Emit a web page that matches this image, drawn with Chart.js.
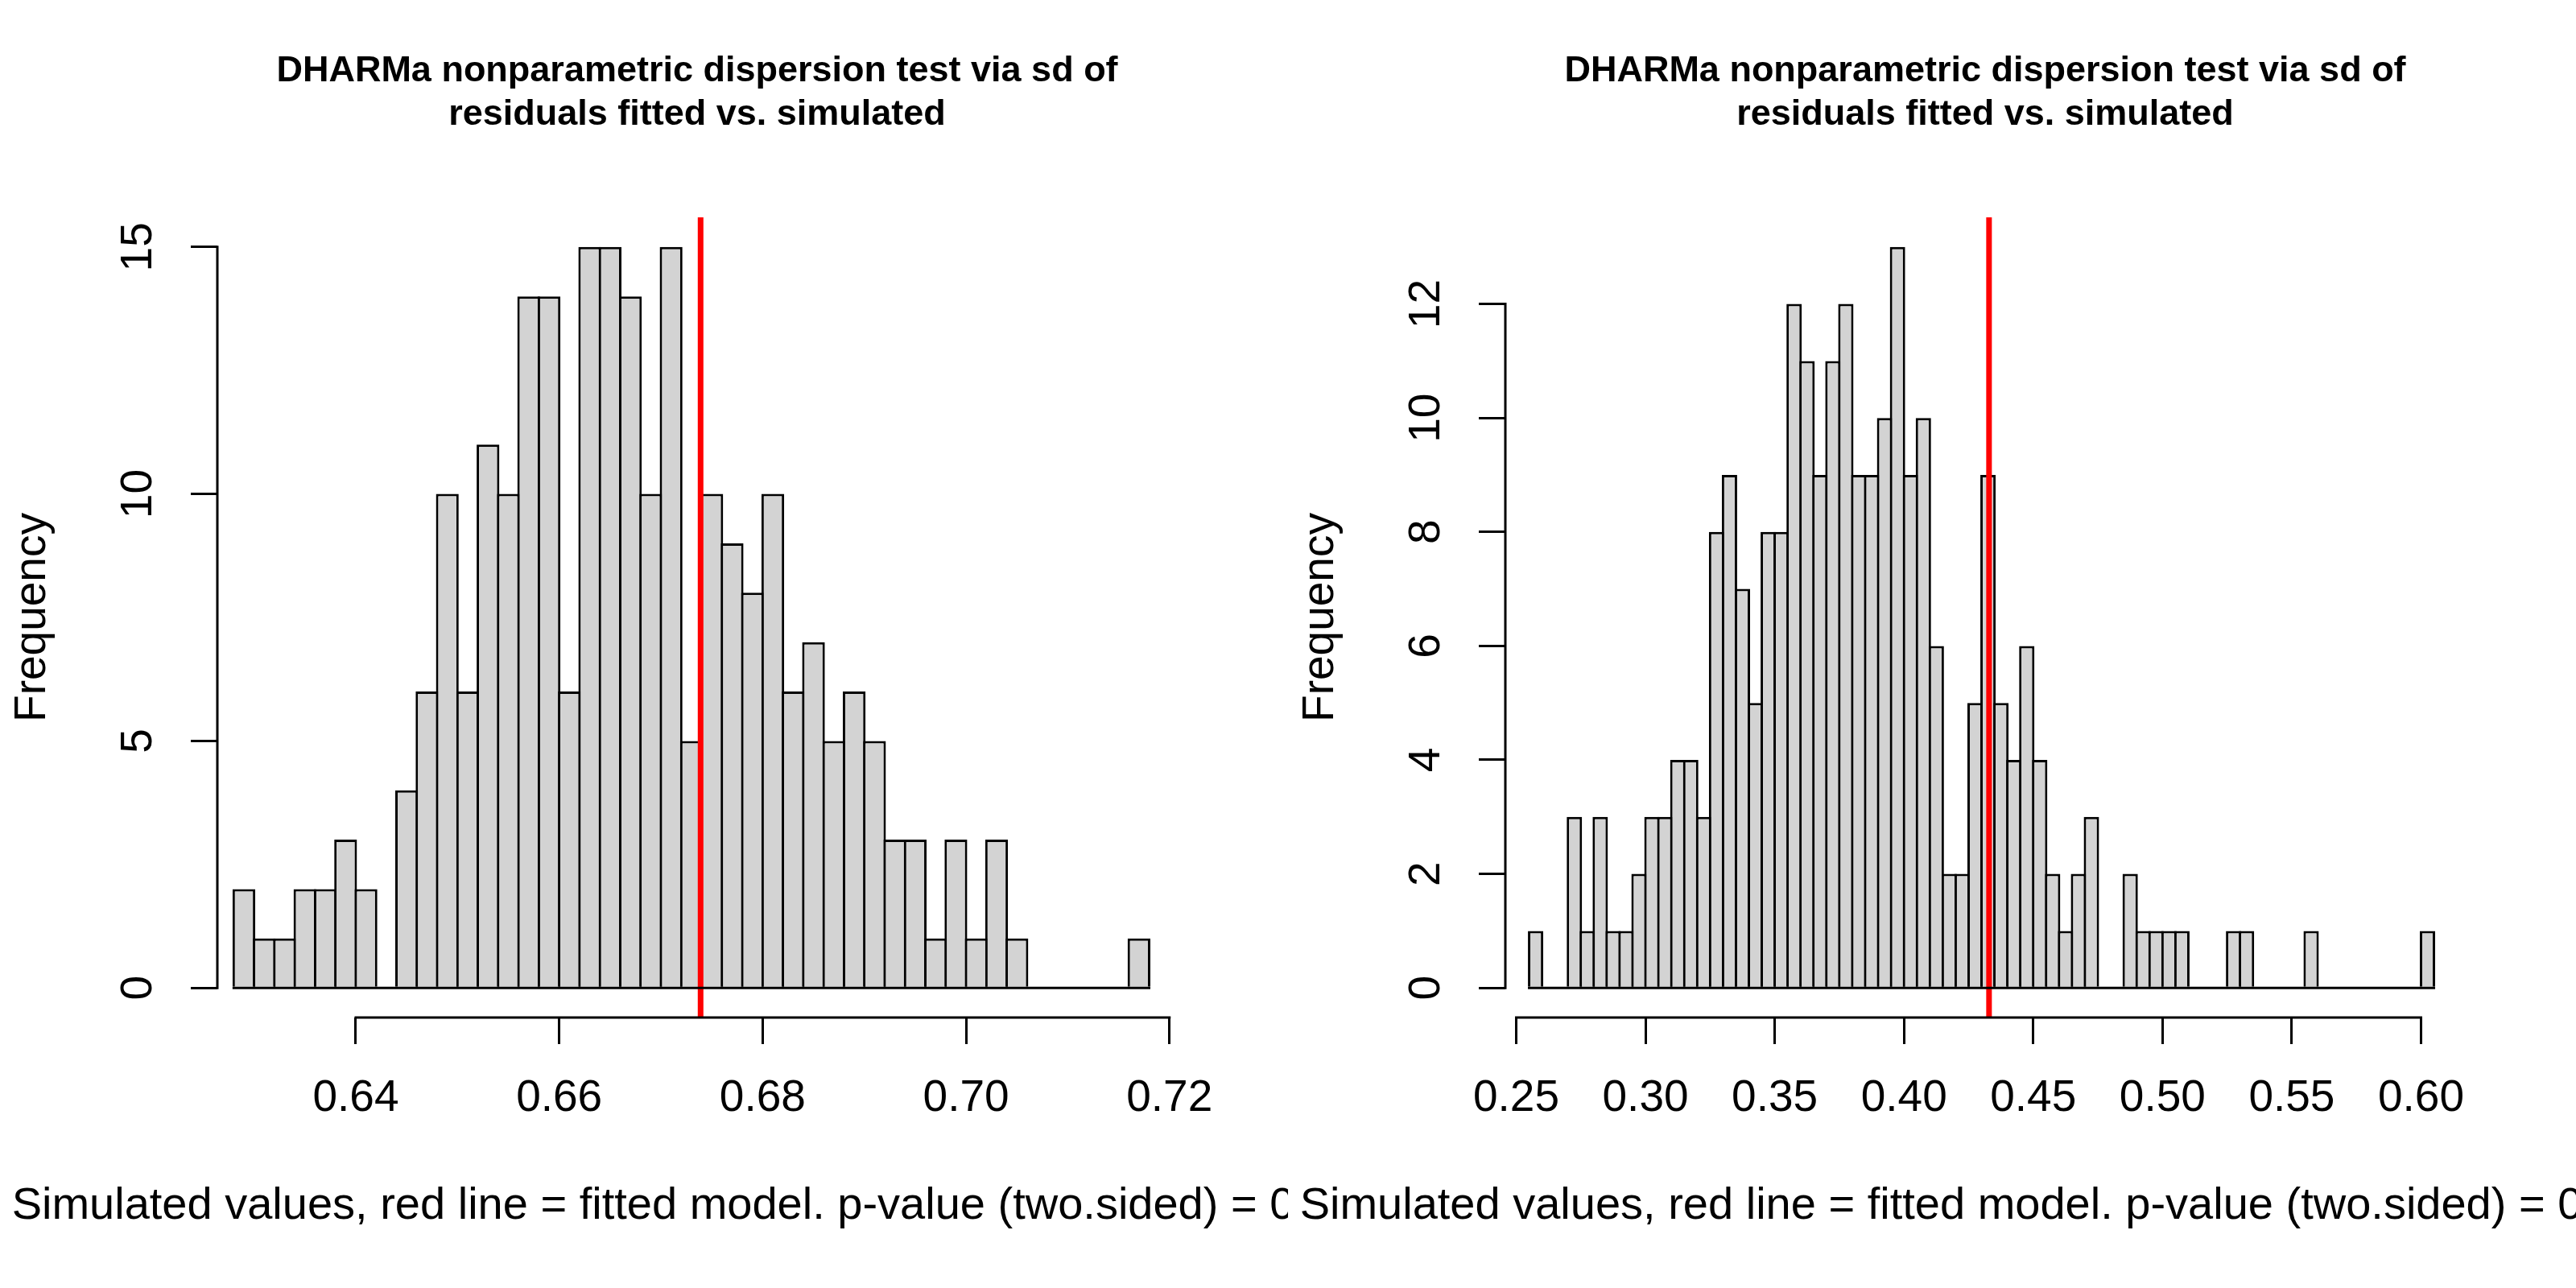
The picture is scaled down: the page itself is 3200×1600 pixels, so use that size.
<!DOCTYPE html>
<html>
<head>
<meta charset="utf-8">
<script src="https://cdn.jsdelivr.net/npm/chart.js@4.4.0/dist/chart.umd.min.js"></script>
<style>
  html, body { margin: 0; padding: 0; background: #ffffff; }
  #wrap { display: flex; width: 3200px; height: 1600px; }
  canvas { display: block; }
</style>
</head>
<body>
<div id="wrap">
  <canvas id="c1" width="1600" height="1600"></canvas>
  <canvas id="c2" width="1600" height="1600"></canvas>
</div>
<script>
// ---------------- data ----------------
const titleLines = ["DHARMa nonparametric dispersion test via sd of", "residuals fitted vs. simulated"];
const yLabel = "Frequency";
const leftXLabel = "Simulated values, red line = fitted model. p-value (two.sided) = 0.656";
const rightXLabel = "Simulated values, red line = fitted model. p-value (two.sided) = 0.328";

// left panel
const leftBinStart = 0.628;
const leftBinWidth = 0.002;
const leftCounts = [2,1,1,2,2,3,2,0,4,6,10,6,11,10,14,14,6,15,15,14,10,15,5,10,9,8,10,6,7,5,6,5,3,3,1,3,1,3,1,0,0,0,0,0,1];
const leftObserved = 0.6739;
const leftXTicks = [0.64, 0.66, 0.68, 0.70, 0.72];
const leftYTicks = [0, 5, 10, 15];
const leftXRange = [0.62639, 0.72073];
const leftYRange = [-0.6, 15.6];

// right panel
const rightBinStart = 0.255;
const rightBinWidth = 0.005;
const rightCounts = [1,0,0,3,1,3,1,1,2,3,3,4,4,3,8,9,7,5,8,8,12,11,9,11,12,9,9,10,13,9,10,6,2,2,5,9,5,4,6,4,2,1,2,3,0,0,2,1,1,1,1,0,0,0,1,1,0,0,0,0,1,0,0,0,0,0,0,0,0,1];
const rightObserved = 0.4329;
const rightXTicks = [0.25, 0.30, 0.35, 0.40, 0.45, 0.50, 0.55, 0.60];
const rightYTicks = [0, 2, 4, 6, 8, 10, 12];
const rightXRange = [0.2458, 0.61698];
const rightYRange = [-0.52, 13.52];

// ---------------- layout / style ----------------
const FONT = "'Liberation Sans', Arial, Helvetica, sans-serif";
const CW = 1600, CH = 1600;
const Y_AXIS_W = 270, RIGHT_PAD = 138, TOP_H = 270, X_AXIS_H = 336;
const LW = 3;
const TITLE_SIZE = 45, TITLE_PAD_TOP = 62;
Chart.defaults.color = '#000';
Chart.defaults.font.family = FONT;

const rAxisPlugin = {
  id: 'rAxis',
  afterDraw(chart) {
    const o = chart.config.options.plugins.rAxis;
    const { ctx, chartArea: ca } = chart;
    const xs = chart.scales.x, ys = chart.scales.y;
    ctx.save();
    ctx.strokeStyle = '#000';
    ctx.lineWidth = LW;
    ctx.lineCap = 'square';
    // x axis line (first to last tick)
    ctx.beginPath();
    ctx.moveTo(xs.getPixelForValue(o.xTicks[0]), ca.bottom);
    ctx.lineTo(xs.getPixelForValue(o.xTicks[o.xTicks.length - 1]), ca.bottom);
    ctx.stroke();
    // y axis line
    ctx.beginPath();
    ctx.moveTo(ca.left, ys.getPixelForValue(o.yTicks[0]));
    ctx.lineTo(ca.left, ys.getPixelForValue(o.yTicks[o.yTicks.length - 1]));
    ctx.stroke();
    // histogram base line (covers empty bins)
    ctx.lineCap = 'butt';
    const y0 = ys.getPixelForValue(0);
    ctx.beginPath();
    ctx.moveTo(xs.getPixelForValue(o.binStart) - LW / 2, y0);
    ctx.lineTo(xs.getPixelForValue(o.binStart + o.nBins * o.binWidth) + LW / 2, y0);
    ctx.stroke();
    // x label (R style, not width-limited)
    ctx.fillStyle = '#000';
    ctx.font = '56px ' + FONT;
    ctx.textAlign = 'center';
    ctx.textBaseline = 'alphabetic';
    ctx.fillText(o.xLabel, (ca.left + ca.right) / 2, chart.height - 86);
    ctx.restore();
  }
};

function makeChart(canvasId, binStart, binWidth, counts, observed, xTicks, yTicks, xRange, yRange, xLabel) {
  const bars = counts.map((c, i) => ({ x: binStart + (i + 0.5) * binWidth, y: c }));
  const plotW = CW - Y_AXIS_W - RIGHT_PAD;
  const binPx = plotW * binWidth / (xRange[1] - xRange[0]);
  const barPct = (binPx + LW) / binPx;
  return new Chart(document.getElementById(canvasId), {
    type: 'bar',
    data: {
      datasets: [
        {
          type: 'line',
          data: [{ x: observed, y: yRange[0] }, { x: observed, y: yRange[1] }],
          borderColor: '#FF0000',
          borderWidth: 7,
          pointRadius: 0,
          fill: false,
          order: 0
        },
        {
          type: 'bar',
          data: bars,
          backgroundColor: '#D3D3D3',
          borderColor: '#000000',
          borderWidth: LW,
          borderSkipped: 'start',
          barPercentage: barPct,
          categoryPercentage: 1.0,
          inflateAmount: 0,
          order: 1
        }
      ]
    },
    options: {
      responsive: false,
      animation: false,
      devicePixelRatio: 1,
      layout: { padding: { left: 0, right: RIGHT_PAD, top: 0, bottom: 0 } },
      plugins: {
        legend: { display: false },
        tooltip: { enabled: false },
        title: {
          display: true,
          text: titleLines,
          fullSize: false,
          color: '#000',
          font: { family: FONT, size: TITLE_SIZE, weight: 'bold', lineHeight: 1.2 },
          padding: { top: TITLE_PAD_TOP, bottom: TOP_H - TITLE_PAD_TOP - 2 * TITLE_SIZE * 1.2 }
        },
        rAxis: { xTicks, yTicks, binStart, binWidth, nBins: counts.length, xLabel }
      },
      scales: {
        x: {
          type: 'linear',
          position: 'bottom',
          min: xRange[0],
          max: xRange[1],
          offset: false,
          afterBuildTicks: (s) => { s.ticks = xTicks.map(v => ({ value: v })); },
          afterFit: (s) => { s.height = X_AXIS_H; },
          border: { display: false },
          grid: { offset: false, drawOnChartArea: false, drawTicks: true, tickLength: 33, color: '#000', lineWidth: LW },
          ticks: {
            autoSkip: false, maxRotation: 0, minRotation: 0,
            padding: 34.6, color: '#000',
            font: { family: FONT, size: 55 },
            callback: (v) => Number(v).toFixed(2)
          }
        },
        y: {
          type: 'linear',
          position: 'left',
          min: yRange[0],
          max: yRange[1],
          afterBuildTicks: (s) => { s.ticks = yTicks.map(v => ({ value: v })); },
          afterFit: (s) => { s.width = Y_AXIS_W; },
          border: { display: false },
          grid: { drawOnChartArea: false, drawTicks: true, tickLength: 33, color: '#000', lineWidth: LW },
          ticks: {
            autoSkip: false, minRotation: 90, maxRotation: 90,
            crossAlign: 'center', padding: 33.4, color: '#000',
            font: { family: FONT, size: 55 },
            callback: (v) => String(v)
          },
          title: {
            display: true,
            text: yLabel,
            color: '#000',
            font: { family: FONT, size: 55, lineHeight: 1.2 },
            padding: { top: 8, bottom: 0 }
          }
        }
      }
    },
    plugins: [rAxisPlugin]
  });
}

makeChart('c1', leftBinStart, leftBinWidth, leftCounts, leftObserved, leftXTicks, leftYTicks, leftXRange, leftYRange, leftXLabel);
makeChart('c2', rightBinStart, rightBinWidth, rightCounts, rightObserved, rightXTicks, rightYTicks, rightXRange, rightYRange, rightXLabel);
</script>
</body>
</html>
